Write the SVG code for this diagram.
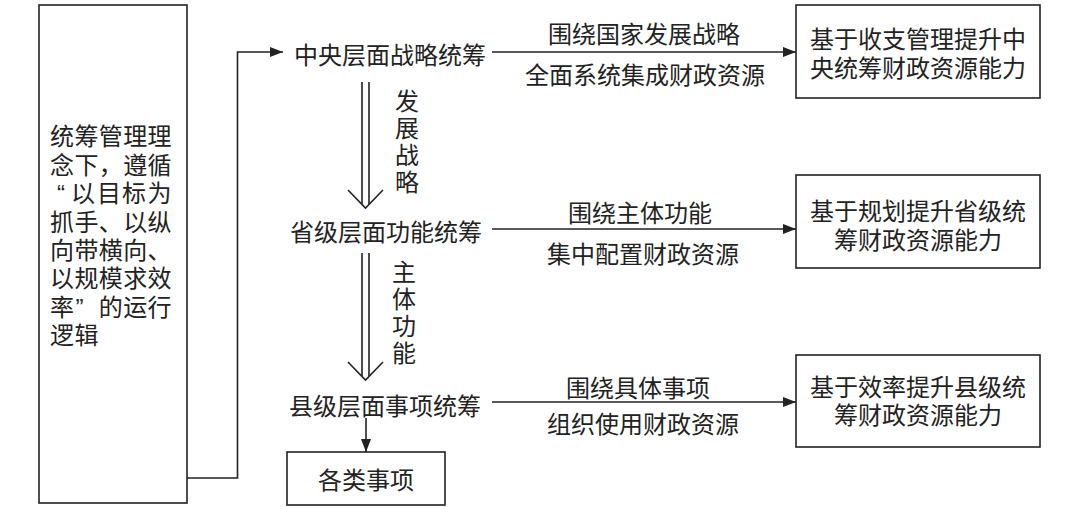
<svg xmlns="http://www.w3.org/2000/svg" width="1080" height="507" viewBox="0 0 1080 507">
<style>
text{font-family:"Noto Sans CJK SC","Noto Sans CJK TC",sans-serif;font-size:24px;fill:#222;dominant-baseline:central}
text.m{font-family:"Liberation Sans","Noto Sans CJK SC","Noto Sans CJK TC",sans-serif}
.c{text-anchor:middle}
.v{writing-mode:vertical-rl;letter-spacing:3px}
.box{fill:#fff;stroke:#222;stroke-width:1.6}
.ln{fill:none;stroke:#222;stroke-width:1.6}
</style>
<defs>
<marker id="ah" markerUnits="userSpaceOnUse" markerWidth="13" markerHeight="10" refX="13" refY="5" orient="auto">
<path d="M0,0 L13,5 L0,10 z" fill="#222"/>
</marker>
</defs>
<rect width="1080" height="507" fill="#fff"/>
<g id="connectors">
<path class="ln" d="M187,478 H237.5 V52 H283" marker-end="url(#ah)"/>
<path class="ln" d="M492,52 H796" marker-end="url(#ah)"/>
<path class="ln" d="M492,229 H796" marker-end="url(#ah)"/>
<path class="ln" d="M492,402 H796" marker-end="url(#ah)"/>
<path class="ln" d="M366,418 V452" marker-end="url(#ah)"/>
<g id="dbl1">
<path class="ln" d="M362,82 V204 M369,82 V204"/>
<path class="ln" d="M348,190 L365.5,208 L383,190"/>
</g>
<g id="dbl2">
<path class="ln" d="M362,253 V376 M369,253 V376"/>
<path class="ln" d="M348,362 L365.5,380 L383,362"/>
</g>
<g id="edge-labels">
<text class="c" x="644" y="32">围绕国家发展战略</text>
<text class="c" x="645" y="73">全面系统集成财政资源</text>
<text class="c" x="640" y="211">围绕主体功能</text>
<text class="c" x="643" y="252">集中配置财政资源</text>
<text class="c" x="638" y="386">围绕具体事项</text>
<text class="c" x="643" y="422">组织使用财政资源</text>
<text class="v" x="407" y="89">发展战略</text>
<text class="v" x="404" y="260">主体功能</text>
</g>
</g>
<g id="logic">
<rect class="box" x="39" y="5" width="148" height="498"/>
<text class="m"><tspan x="50 74.4 98.8 123.2 147.6" y="136">统筹管理理</tspan><tspan x="50 74.4 98.8 123.2 147.6" y="165">念下，遵循</tspan><tspan x="57 71 97 122 147.6" y="193">“以目标为</tspan><tspan x="50 74.4 98.8 123.2 147.6" y="222">抓手、以纵</tspan><tspan x="50 74.4 98.8 123.2 147.6" y="250">向带横向、</tspan><tspan x="50 74.4 98.8 123.2 147.6" y="278">以规模求效</tspan><tspan x="50 75.5 98.8 123.2 147.6" y="307">率”的运行</tspan><tspan x="50 74.4" y="335">逻辑</tspan></text>
</g>
<g id="central"><text class="c" x="390" y="53">中央层面战略统筹</text></g>
<g id="provincial"><text class="c" x="386" y="230">省级层面功能统筹</text></g>
<g id="county"><text class="c" x="385" y="404">县级层面事项统筹</text></g>
<g id="items">
<rect class="box" x="287" y="452" width="158" height="53"/>
<text class="c" x="366" y="478">各类事项</text>
</g>
<g id="box1">
<rect class="box" x="796" y="5" width="244" height="93"/>
<text class="c m"><tspan x="918" y="39">基于收支管理提升中</tspan><tspan x="918" y="68">央统筹财政资源能力</tspan></text>
</g>
<g id="box2">
<rect class="box" x="796" y="175" width="244" height="93"/>
<text class="c m"><tspan x="918" y="211">基于规划提升省级统</tspan><tspan x="918" y="240">筹财政资源能力</tspan></text>
</g>
<g id="box3">
<rect class="box" x="796" y="355" width="244" height="92"/>
<text class="c m"><tspan x="918" y="387">基于效率提升县级统</tspan><tspan x="918" y="415">筹财政资源能力</tspan></text>
</g>
</svg>
